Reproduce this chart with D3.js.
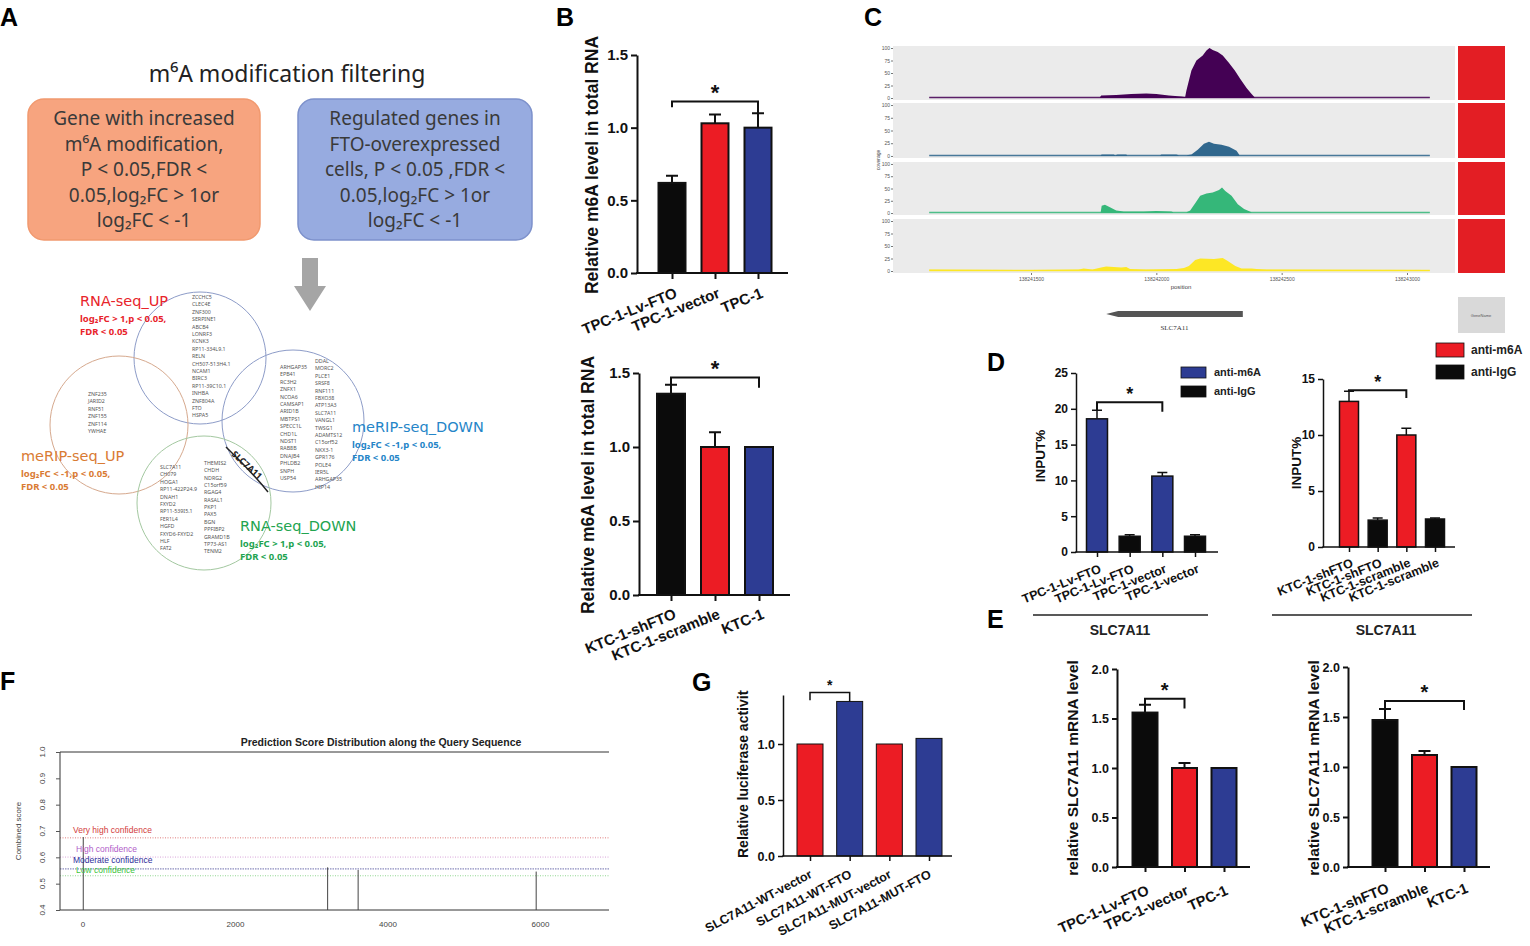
<!DOCTYPE html>
<html>
<head>
<meta charset="utf-8">
<script src="https://cdn.jsdelivr.net/npm/d3@7"></script>
<style>
  body { margin: 0; background: #fff; }
  svg { display: block; }
</style>
</head>
<body>
<svg id="fig" width="1530" height="946"></svg>
<script>
// ---------- data ----------
// panel A
const filterTextOrange = ["Gene with increased", "m⁶A modification,", "P < 0.05,FDR <", "0.05,log₂FC > 1or", "log₂FC < -1"];
const filterTextBlue = ["Regulated genes in", "FTO-overexpressed", "cells, P < 0.05 ,FDR <", "0.05,log₂FC > 1or", "log₂FC < -1"];
const rnaUpGenes = ["ZCCHC5", "CLEC4E", "ZNF300", "SERPINE1", "ABCB4", "LONRF3", "KCNK3", "RP11-334L9.1", "RELN",
  "CH507-513H4.1", "NCAM1", "BIRC3", "RP11-39C10.1", "INHBA", "ZNF804A", "FTO", "HSPA5"];
const meripUpGenes = ["ZNF235", "JARID2", "RNF51", "ZNF155", "ZNF114", "YWHAE"];
const rnaDownGenesA = ["SLC7A11", "CH079", "HOGA1", "RP11-422P24.9", "DNAH1", "FXYD2", "RP11-539I5.1", "FER1L4",
  "HGFD", "FXYD6-FXYD2", "HLF", "FAT2"];
const rnaDownGenesB = ["THEMIS2", "CHDH", "NDRG2", "C15orf59", "RGAG4", "RASAL1", "PKP1", "PAX5", "BGN", "PPFIBP2",
  "GRAMD1B", "TP73-AS1", "TENM2"];
const meripDownGenesA = ["ARHGAP35", "EPB41", "RC3H2", "ZNFX1", "NCOA6", "CAMSAP1", "ARID1B", "MBTPS1", "SPECC1L",
  "CHD1L", "NDST1", "RAB8B", "DNAJB4", "PHLDB2", "SNPH", "USP54"];
const meripDownGenesB = ["DDAL", "MORC2", "PLCE1", "SRSF8", "RNF111", "FBXO38", "ATP13A3", "SLC7A11", "VANGL1",
  "TWSG1", "ADAMTS12", "C15orf52", "NKX3-1", "GPR176", "POLE4", "IER5L", "ARHGAP35", "HIP14"];

// panel B
const bTopGroups = ["TPC-1-Lv-FTO", "TPC-1-vector", "TPC-1"];
const bTopMeans = [0.62, 1.03, 1.0];
const bTopErr = [0.05, 0.06, 0.10];
const bBotGroups = ["KTC-1-shFTO", "KTC-1-scramble", "KTC-1"];
const bBotMeans = [1.36, 1.0, 1.0];
const bBotErr = [0.06, 0.10, 0];

// panel C (coverage, [position, coverage])
const covTicks = [138241500, 138242000, 138242500, 138243000];
const covTrack1 = [[138241094, 1.5], [138241775, 1.5], [138241780, 5], [138241840, 6], [138241900, 8], [138241960, 9],
  [138242000, 8], [138242050, 5], [138242100, 3], [138242115, 2], [138242120, 15], [138242140, 55], [138242160, 75],
  [138242185, 85], [138242200, 95], [138242212, 100], [138242225, 96], [138242245, 92], [138242265, 85],
  [138242290, 70], [138242313, 55], [138242335, 38], [138242360, 20], [138242380, 8], [138242392, 1.5], [138243091, 1.5]];
const covTrack2 = [[138241094, 1.5], [138241778, 1.5], [138241782, 3], [138241830, 3], [138241836, 1.5], [138241845, 3],
  [138241880, 3], [138241884, 1.5], [138242015, 1.5], [138242020, 3], [138242080, 3], [138242090, 1.5], [138242120, 1.5],
  [138242140, 3], [138242165, 12], [138242190, 24], [138242210, 28], [138242230, 24], [138242260, 22], [138242290, 18],
  [138242320, 10], [138242332, 1.5], [138243091, 1.5]];
const covTrack3 = [[138241094, 1.5], [138241778, 1.5], [138241782, 15], [138241795, 17], [138241815, 12], [138241840, 5],
  [138241870, 3], [138241950, 3], [138242000, 4], [138242060, 3], [138242068, 1.5], [138242120, 1.5], [138242135, 5],
  [138242155, 20], [138242175, 35], [138242200, 40], [138242225, 42], [138242250, 47], [138242262, 52], [138242275, 45],
  [138242300, 35], [138242325, 18], [138242350, 8], [138242380, 1.5], [138243091, 1.5]];
const covTrack4 = [[138241094, 3], [138241500, 2], [138241690, 3], [138241710, 5], [138241745, 3], [138241780, 7],
  [138241800, 9], [138241860, 7], [138241880, 8], [138241895, 4], [138241960, 3], [138242080, 4], [138242110, 6],
  [138242130, 10], [138242155, 22], [138242175, 25], [138242230, 24], [138242265, 26], [138242285, 20],
  [138242315, 10], [138242340, 5], [138242380, 5], [138242400, 4], [138242440, 3], [138243091, 2]];
const covColors = ["#440154", "#31688e", "#35b779", "#fde725"];
const geneSpan = [138241800, 138242345];

// panel D
const dLeftGroups = ["TPC-1-Lv-FTO", "TPC-1-Lv-FTO", "TPC-1-vector", "TPC-1-vector"];
const dLeftMeans = [18.6, 2.2, 10.6, 2.2];
const dLeftErr = [1.2, 0.2, 0.5, 0.2];
const dRightGroups = ["KTC-1-shFTO", "KTC-1-shFTO", "KTC-1-scramble", "KTC-1-scramble"];
const dRightMeans = [13.0, 2.4, 10.0, 2.5];
const dRightErr = [0.9, 0.2, 0.6, 0.1];
const antibodies = ["anti-m6A", "anti-IgG"];

// panel E
const eLeftGroups = ["TPC-1-Lv-FTO", "TPC-1-vector", "TPC-1"];
const eLeftMeans = [1.56, 1.0, 1.0];
const eLeftErr = [0.08, 0.05, 0];
const eRightGroups = ["KTC-1-shFTO", "KTC-1-scramble", "KTC-1"];
const eRightMeans = [1.47, 1.12, 1.0];
const eRightErr = [0.11, 0.04, 0];

// panel F
const sitePos = [10, 3215, 3615, 5950];
const siteScore = [0.677, 0.562, 0.552, 0.546];
const confNames = ["Very high confidence", "High confidence", "Moderate confidence", "Low confidence"];
const confLevels = [0.674, 0.601, 0.556, 0.530];

// panel G
const gGroups = ["SLC7A11-WT-vector", "SLC7A11-WT-FTO", "SLC7A11-MUT-vector", "SLC7A11-MUT-FTO"];
const gMeans = [1.0, 1.38, 1.0, 1.05];

// ---------- setup ----------
const SANS = '"Liberation Sans", Arial, sans-serif';
const CN = '"Noto Sans", "Open Sans", sans-serif';
const BLACK = "#0b0b0b", RED = "#ec1c24", BLUE = "#2d3c93";

const svg = d3.select("#fig");
svg.append("rect").attr("width", 1530).attr("height", 946).attr("fill", "#fff");

function txt(g, x, y, s, o = {}) {
  return g.append("text").attr("x", x).attr("y", y).text(s)
    .style("font-family", o.ff || SANS).style("font-size", (o.fs || 12) + "px")
    .style("font-weight", o.fw || "normal").attr("fill", o.fill || "#111")
    .attr("text-anchor", o.anchor || "start");
}

// panel letters
[["A", 0, 26], ["B", 556, 26], ["C", 864, 26], ["D", 987, 371], ["E", 987, 628], ["F", 0, 690], ["G", 692, 691]]
  .forEach(([s, x, y]) => txt(svg, x, y, s, { fs: 25, fw: "bold", fill: "#000" }));

// ---------- panel A ----------
const gA = svg.append("g");
txt(gA, 287, 82, "m⁶A modification filtering", { ff: CN, fs: 23, anchor: "middle", fill: "#222" });

[{ x: 28, w: 232, fill: "#f7a47f", stroke: "#f1996f", lines: filterTextOrange },
 { x: 298, w: 234, fill: "#97abe0", stroke: "#7d91cb", lines: filterTextBlue }].forEach(b => {
  gA.append("rect").attr("x", b.x).attr("y", 99).attr("width", b.w).attr("height", 141)
    .attr("rx", 16).attr("fill", b.fill).attr("stroke", b.stroke).attr("stroke-width", 1.5);
  b.lines.forEach((l, i) => txt(gA, b.x + b.w / 2, 125 + i * 25.5, l, { ff: CN, fs: 19, anchor: "middle", fill: "#3a3a3a" }));
});

// arrow
gA.append("path").attr("d", "M302,258H318V286H326L310,311L294,286H302Z").attr("fill", "#a5a5a5");

// venn circles
[[200, 358, 66, "#8d9cc8"], [119, 425, 69, "#d6a98e"], [293, 421, 71, "#8d9cc8"], [204, 503, 67, "#a3c8a0"]]
  .forEach(([cx, cy, r, c]) => gA.append("circle").attr("cx", cx).attr("cy", cy).attr("r", r)
    .attr("fill", "none").attr("stroke", c).attr("stroke-width", 1));

function geneList(list, x, y0, step) {
  list.forEach((s, i) => txt(gA, x, y0 + i * step, s, { ff: CN, fs: 5.3, fill: "#555" }));
}
geneList(rnaUpGenes, 192, 299, 7.4);
geneList(meripUpGenes, 88, 396, 7.4);
geneList(rnaDownGenesA, 160, 469, 7.4);
geneList(rnaDownGenesB, 204, 465, 7.35);
geneList(meripDownGenesA, 280, 369, 7.4);
geneList(meripDownGenesB, 315, 363, 7.4);

gA.append("text").attr("transform", "translate(231,455) rotate(42)").text("SLC7A11")
  .style("font-family", CN).style("font-size", "9px").style("font-weight", "bold").attr("fill", "#222");
gA.append("path").attr("d", "M226,447 Q250,470 268,492").attr("fill", "none").attr("stroke", "#222").attr("stroke-width", 1.5);

[{ name: "RNA-seq_UP", c: "#e8232a", x: 80, y: 306, s1: "log₂FC > 1,p < 0.05," },
 { name: "meRIP-seq_UP", c: "#d97b33", x: 21, y: 461, s1: "log₂FC < -1,p < 0.05," },
 { name: "meRIP-seq_DOWN", c: "#2585c8", x: 352, y: 432, s1: "log₂FC < -1,p < 0.05," },
 { name: "RNA-seq_DOWN", c: "#22a450", x: 240, y: 531, s1: "log₂FC > 1,p < 0.05," }].forEach(v => {
  txt(gA, v.x, v.y, v.name, { ff: '"DejaVu Sans", sans-serif', fs: 14.5, fill: v.c });
  txt(gA, v.x, v.y + 16, v.s1, { ff: CN, fs: 9.5, fw: "bold", fill: v.c });
  txt(gA, v.x, v.y + 29, "FDR < 0.05", { ff: CN, fs: 9.5, fw: "bold", fill: v.c });
});

// ---------- bar chart helper ----------
function barChart(c) {
  const g = svg.append("g");
  const n = c.values.length;
  const x = d3.scalePoint().domain(d3.range(n)).range(c.xr);
  const y = d3.scaleLinear().domain([0, c.yMax]).range([c.y0, c.yTop]);

  g.selectAll("rect.bar").data(c.values).join("rect").attr("class", "bar")
    .attr("x", (d, i) => x(i) - c.bw / 2).attr("y", d => y(d))
    .attr("width", c.bw).attr("height", d => c.y0 - y(d))
    .attr("fill", (d, i) => c.colors[i]).attr("stroke", "#111").attr("stroke-width", c.bs);

  if (c.errors) c.errors.forEach((e, i) => {
    if (!e) return;
    const xi = x(i), yt = y(c.values[i]), ye = y(c.values[i] + e);
    g.append("path").attr("d", `M${xi},${yt}V${ye}M${xi - c.cap},${ye}H${xi + c.cap}`)
      .attr("stroke", "#111").attr("stroke-width", c.es).attr("fill", "none");
  });

  const ya = g.append("g").attr("transform", `translate(${c.x0},0)`)
    .call(d3.axisLeft(y).tickValues(c.yTicks).tickFormat(d3.format(c.fmt)).tickSize(c.tk).tickSizeOuter(0).tickPadding(3));
  ya.selectAll("path,line").attr("stroke", "#111").attr("stroke-width", c.aw);
  ya.selectAll("text").style("font-family", SANS).style("font-weight", "bold").style("font-size", c.tfs + "px").attr("fill", "#111");

  const xa = g.append("g").attr("transform", `translate(0,${c.y0})`)
    .call(d3.axisBottom(x).tickSize(c.tk).tickFormat(""));
  xa.select(".domain").remove();
  xa.selectAll("line").attr("stroke", "#111").attr("stroke-width", c.aw);
  g.append("line").attr("x1", c.x0 - c.aw / 2).attr("x2", c.xEnd).attr("y1", c.y0).attr("y2", c.y0)
    .attr("stroke", "#111").attr("stroke-width", c.aw);

  c.labels.forEach((s, i) => {
    g.append("text").attr("transform", `translate(${x(i) + c.ldx},${c.y0 + c.ldy}) rotate(${-c.angle})`)
      .attr("text-anchor", "end").text(s)
      .style("font-family", SANS).style("font-weight", "bold").style("font-size", c.lfs + "px").attr("fill", "#111");
  });

  if (c.title) {
    let holder = g;
    if (c.title.clipTop) {
      const id = "clip" + Math.round(c.title.x);
      svg.append("clipPath").attr("id", id).append("rect")
        .attr("x", 0).attr("y", c.title.clipTop).attr("width", 1530).attr("height", 946 - c.title.clipTop);
      holder = g.append("g").attr("clip-path", `url(#${id})`);
    }
    holder.append("text").attr("transform", `translate(${c.title.x},${c.title.y}) rotate(-90)`)
      .attr("text-anchor", c.title.anchor || "middle").text(c.title.s)
      .style("font-family", SANS).style("font-weight", "bold").style("font-size", c.title.fs + "px").attr("fill", "#111");
  }

  if (c.sig) {
    const s = c.sig, x1 = x(s.a), x2 = x(s.b), yb = y(s.level);
    g.append("path").attr("d", `M${x1},${y(s.dl)}V${yb}H${x2}V${y(s.dr)}`)
      .attr("fill", "none").attr("stroke", "#111").attr("stroke-width", c.sw || 2);
    txt(g, (x1 + x2) / 2, yb - (s.gap || 5), "*", { fs: s.fs, fw: "bold", anchor: "middle", fill: "#111" })
      .attr("dy", "0.55em");
  }
  return { g, x, y };
}

// ---------- panel B ----------
barChart({
  values: bTopMeans, errors: bTopErr, labels: bTopGroups, colors: [BLACK, RED, BLUE],
  xr: [672, 758], x0: 637, xEnd: 788, y0: 273, yTop: 55, yMax: 1.5, yTicks: [0, 0.5, 1, 1.5], fmt: ".1f",
  bw: 27, bs: 2, cap: 6, es: 2, tk: 6, aw: 2, tfs: 15, lfs: 15, ldx: 6, ldy: 24, angle: 22,
  title: { s: "Relative m6A level in total RNA", x: 598, y: 165, fs: 17.5 },
  sig: { a: 0, b: 2, level: 1.18, dl: 1.14, dr: 1.10, fs: 22, gap: 14 }
});
barChart({
  values: bBotMeans, errors: bBotErr, labels: bBotGroups, colors: [BLACK, RED, BLUE],
  xr: [671, 759], x0: 639, xEnd: 790, y0: 595, yTop: 373, yMax: 1.5, yTicks: [0, 0.5, 1, 1.5], fmt: ".1f",
  bw: 28, bs: 2, cap: 6, es: 2, tk: 6, aw: 2, tfs: 15, lfs: 15, ldx: 6, ldy: 23, angle: 22,
  title: { s: "Relative m6A level in total RNA", x: 594, y: 485, fs: 17.5 },
  sig: { a: 0, b: 2, level: 1.47, dl: 1.42, dr: 1.40, fs: 22, gap: 14 }
});

// ---------- panel C ----------
const gC = svg.append("g");
const covX = d3.scaleLinear().domain([covTicks[0], covTicks[3]]).range([1031, 1407]);
const trackBands = [[46, 100], [103, 158], [162, 215], [219, 273]];
[covTrack1, covTrack2, covTrack3, covTrack4].forEach((tr, i) => {
  const [top, bot] = trackBands[i];
  gC.append("rect").attr("x", 893).attr("y", top).attr("width", 562).attr("height", bot - top).attr("fill", "#ebebeb");
  const y = d3.scaleLinear().domain([-4, 104]).range([bot, top]);
  gC.append("path").datum(tr)
    .attr("d", d3.area().x(d => covX(d[0])).y0(y(0)).y1(d => y(d[1])))
    .attr("fill", covColors[i]);
  gC.append("path").datum(tr)
    .attr("d", d3.line().x(d => covX(d[0])).y(() => y(1)))
    .attr("stroke", covColors[i]).attr("stroke-opacity", 0.45).attr("stroke-width", 2).attr("fill", "none");
  const ax = gC.append("g").attr("transform", "translate(893,0)")
    .call(d3.axisLeft(y).tickValues([0, 25, 50, 75, 100]).tickSize(2).tickPadding(1));
  ax.select(".domain").remove();
  ax.selectAll("line").attr("stroke", "#777");
  ax.selectAll("text").style("font-family", SANS).style("font-size", "5px").attr("fill", "#555");
  gC.append("rect").attr("x", 1458).attr("y", top).attr("width", 47).attr("height", bot - top).attr("fill", "#e31e24");
});
const cx = gC.append("g").attr("transform", "translate(0,273)")
  .call(d3.axisBottom(covX).tickValues(covTicks).tickFormat(d3.format("d")).tickSize(2).tickPadding(2));
cx.select(".domain").remove();
cx.selectAll("line").attr("stroke", "#777");
cx.selectAll("text").style("font-family", SANS).style("font-size", "5px").attr("fill", "#555");
txt(gC, 1181, 289, "position", { fs: 6, anchor: "middle", fill: "#444" });
gC.append("text").attr("transform", "translate(880,160) rotate(-90)").attr("text-anchor", "middle").text("coverage")
  .style("font-family", SANS).style("font-size", "5px").attr("fill", "#444");
const gx1 = covX(geneSpan[0]), gx2 = covX(geneSpan[1]);
gC.append("path").attr("d", `M${gx1},314L${gx1 + 12},311H${gx2}V317H${gx1 + 12}Z`).attr("fill", "#555");
txt(gC, (gx1 + gx2) / 2, 330, "SLC7A11", { ff: '"Liberation Serif", serif', fs: 7, anchor: "middle", fill: "#333" });
gC.append("rect").attr("x", 1458).attr("y", 297).attr("width", 47).attr("height", 36).attr("fill", "#d9d9d9");
txt(gC, 1481, 317, "GeneName", { fs: 4, anchor: "middle", fill: "#555" });

// ---------- panel D ----------
barChart({
  values: dLeftMeans, errors: dLeftErr, labels: dLeftGroups, colors: [BLUE, BLACK, BLUE, BLACK],
  xr: [1097, 1195], x0: 1076, xEnd: 1218, y0: 552, yTop: 373, yMax: 25, yTicks: [0, 5, 10, 15, 20, 25], fmt: "d",
  bw: 21, bs: 1.5, cap: 5, es: 1.5, tk: 5, aw: 1.5, tfs: 12, lfs: 12.5, ldx: 5, ldy: 20, angle: 22,
  title: { s: "INPUT%", x: 1045, y: 456, fs: 13.5 },
  sig: { a: 0, b: 2, level: 20.9, dl: 19.8, dr: 19.6, fs: 18, gap: 12 }
});
barChart({
  values: dRightMeans, errors: dRightErr, labels: dRightGroups, colors: [RED, BLACK, RED, BLACK],
  xr: [1349, 1435], x0: 1323, xEnd: 1455, y0: 547, yTop: 379, yMax: 15, yTicks: [0, 5, 10, 15], fmt: "d",
  bw: 19, bs: 1.5, cap: 5, es: 1.5, tk: 5, aw: 1.5, tfs: 12, lfs: 12.5, ldx: 5, ldy: 19, angle: 22,
  title: { s: "INPUT%", x: 1301, y: 463, fs: 13.5 },
  sig: { a: 0, b: 2, level: 14.0, dl: 13.9, dr: 13.3, fs: 18, gap: 12 }
});
const gD = svg.append("g");
[[1181, 367, BLUE, 11, 25, 1214, 11], [1436, 343, RED, 14, 28, 1471, 12]].forEach(([lx, ly, c, h, w, tx, fs]) => {
  const step = h + 8;
  [c, BLACK].forEach((col, i) => {
    gD.append("rect").attr("x", lx).attr("y", ly + i * step).attr("width", w).attr("height", h)
      .attr("fill", col).attr("stroke", "#111").attr("stroke-width", 0.8);
    txt(gD, tx, ly + i * step + h / 2 + fs * 0.36, antibodies[i], { fs: fs, fw: "bold", fill: "#222" });
  });
});
[[1033, 1208, 1120], [1272, 1472, 1386]].forEach(([a, b, m]) => {
  gD.append("line").attr("x1", a).attr("x2", b).attr("y1", 615).attr("y2", 615).attr("stroke", "#222").attr("stroke-width", 1.5);
  txt(gD, m, 635, "SLC7A11", { fs: 14, fw: "bold", anchor: "middle", fill: "#222" });
});

// ---------- panel E ----------
barChart({
  values: eLeftMeans, errors: eLeftErr, labels: eLeftGroups, colors: [BLACK, RED, BLUE],
  xr: [1145, 1224], x0: 1117, xEnd: 1250, y0: 867, yTop: 669, yMax: 2, yTicks: [0, 0.5, 1, 1.5, 2], fmt: ".1f",
  bw: 25, bs: 2, cap: 6, es: 2, tk: 5, aw: 2, tfs: 12.5, lfs: 14.5, ldx: 5, ldy: 27, angle: 24,
  title: { s: "relative SLC7A11 mRNA level", x: 1078, y: 768, fs: 15.5 },
  sig: { a: 0, b: 1, level: 1.70, dl: 1.64, dr: 1.60, fs: 20, gap: 13 }
});
barChart({
  values: eRightMeans, errors: eRightErr, labels: eRightGroups, colors: [BLACK, RED, BLUE],
  xr: [1385, 1464], x0: 1348, xEnd: 1490, y0: 867, yTop: 667, yMax: 2, yTicks: [0, 0.5, 1, 1.5, 2], fmt: ".1f",
  bw: 25, bs: 2, cap: 6, es: 2, tk: 5, aw: 2, tfs: 12.5, lfs: 14.5, ldx: 5, ldy: 25, angle: 22,
  title: { s: "relative SLC7A11 mRNA level", x: 1319, y: 768, fs: 15.5 },
  sig: { a: 0, b: 2, level: 1.66, dl: 1.58, dr: 1.57, fs: 20, gap: 13 }
});

// ---------- panel F ----------
const gF = svg.append("g");
const fx = d3.scaleLinear().domain([-295, 6905]).range([60, 609]);
const fy = d3.scaleLinear().domain([0.4, 1.0]).range([910, 752]);
const confColors = ["#e07a7a", "#d9a3d9", "#6f6fae", "#8fd68f"];
const confTextColors = ["#d23c3c", "#b05cc8", "#2c2c9a", "#3cc43c"];
confLevels.forEach((v, i) => {
  gF.append("line").attr("x1", 60).attr("x2", 609).attr("y1", fy(v)).attr("y2", fy(v))
    .attr("stroke", confColors[i]).attr("stroke-width", 1).attr("stroke-dasharray", i === 2 ? "1.5,1" : "1,1.5");
});
["M60,752H609", "M60,910H609", "M60,752V910"].forEach(d =>
  gF.append("path").attr("d", d).attr("stroke", "#333").attr("stroke-width", 1).attr("fill", "none"));
sitePos.forEach((p, i) => gF.append("line").attr("x1", fx(p)).attr("x2", fx(p)).attr("y1", fy(0.4)).attr("y2", fy(siteScore[i]))
  .attr("stroke", "#444").attr("stroke-width", 1));
const fya = gF.append("g").attr("transform", "translate(60,0)")
  .call(d3.axisLeft(fy).tickValues([0.4, 0.5, 0.6, 0.7, 0.8, 0.9, 1.0]).tickSize(4).tickFormat(""));
fya.select(".domain").remove();
fya.selectAll("line").attr("stroke", "#555");
[0.4, 0.5, 0.6, 0.7, 0.8, 0.9, 1.0].forEach(v =>
  gF.append("text").attr("transform", `translate(45,${fy(v)}) rotate(-90)`).attr("text-anchor", "middle")
    .text(d3.format(".1f")(v)).style("font-family", SANS).style("font-size", "8px").attr("fill", "#444"));
const fxa = gF.append("g").attr("transform", "translate(0,910)")
  .call(d3.axisBottom(fx).tickValues([0, 2000, 4000, 6000]).tickSize(0).tickPadding(11).tickFormat(d3.format("d")));
fxa.select(".domain").remove();
fxa.selectAll("text").style("font-family", SANS).style("font-size", "8px").attr("fill", "#444");
gF.append("text").attr("transform", "translate(21,831) rotate(-90)").attr("text-anchor", "middle").text("Combined score")
  .style("font-family", SANS).style("font-size", "8px").attr("fill", "#444");
txt(gF, 381, 746, "Prediction Score Distribution along the Query Sequence", { fs: 10.5, fw: "bold", anchor: "middle", fill: "#222" });
[[73, 833], [76, 852], [73, 863], [76, 873]].forEach(([x, y], i) =>
  txt(gF, x, y, confNames[i], { fs: 8.5, fill: confTextColors[i] }));

// ---------- panel G ----------
barChart({
  values: gMeans, labels: gGroups, colors: [RED, BLUE, RED, BLUE],
  xr: [810, 929], x0: 783, xEnd: 952, y0: 856, yTop: 695, yMax: 1.4375, yTicks: [0, 0.5, 1], fmt: ".1f",
  bw: 26, bs: 1, cap: 0, es: 0, tk: 5, aw: 1.5, tfs: 12.5, lfs: 12.5, ldx: 3, ldy: 21, angle: 28,
  title: { s: "Relative luciferase activity", x: 748, y: 858, fs: 14, anchor: "start", clipTop: 690 },
  sig: { a: 0, b: 1, level: 1.46, dl: 1.39, dr: 1.38, fs: 14, gap: 10 }, sw: 1.5
});
</script>
</body>
</html>
